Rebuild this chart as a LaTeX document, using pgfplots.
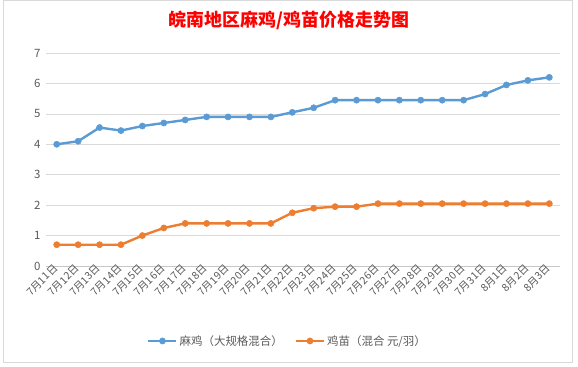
\documentclass[border=0pt]{standalone}
\usepackage{pgfplots}
\pgfplotsset{compat=1.18}
\usepackage{fontspec}
\setmainfont{Noto Sans CJK SC}
\definecolor{sblue}{HTML}{5B9BD5}
\definecolor{sorange}{HTML}{ED7D31}
\definecolor{gridc}{HTML}{D9D9D9}
\definecolor{txtc}{HTML}{595959}
\begin{document}
\begin{tikzpicture}[x=1bp,y=1bp]
\useasboundingbox (0,0) rectangle (578,366);
\draw[gridc, line width=0.6bp] (3,4) rectangle (572,366);
\begin{axis}[
  at={(46bp,100bp)}, anchor=south west,
  scale only axis, width=514bp, height=213bp,
  xmin=-0.5, xmax=23.5, ymin=0, ymax=7,
  axis x line*=bottom, axis y line*=left,
  x axis line style={draw=gridc!80!gray, -},
  y axis line style={draw=none},
  xtick={0,...,23},
  xticklabels={7月11日,7月12日,7月13日,7月14日,7月15日,7月16日,7月17日,7月18日,7月19日,7月20日,7月21日,7月22日,7月23日,7月24日,7月25日,7月26日,7月27日,7月28日,7月29日,7月30日,7月31日,8月1日,8月2日,8月3日},
  major x tick style={draw=none},
  major y tick style={draw=none},
  extra x ticks={-0.5,0.5,...,23.5},
  extra x tick labels={},
  extra x tick style={major tick length=4bp, tick align=outside, major tick style={draw=gridc!80!gray}, xmajorgrids=false},
  xticklabel style={rotate=45, anchor=east, font=\fontsize{10.5}{11}\selectfont, text=txtc, inner sep=1bp},
  ytick={0,...,7},
  ymajorgrids, grid style={gridc, line width=0.6bp},
  yticklabel style={font=\fontsize{11.5}{12}\selectfont, text=txtc, xshift=-2bp},
  /pgf/number format/assume math mode=true,
  legend columns=2,
  legend style={at={(0.47,-0.352)}, anchor=center, draw=none, fill=none,
    font=\fontsize{11.5}{12}\selectfont, text=txtc, inner xsep=1bp,
    /tikz/every even column/.append style={column sep=10bp}},
  legend cell align=left,
  legend image code/.code={
    \draw[#1, line width=2.4bp] (0bp,0bp) -- (28bp,0bp);
    \draw[#1, mark repeat=1] plot coordinates {(14bp,0bp)};
  },
  clip=false,
]
\addplot[sblue, line width=2.4bp, mark=*, mark size=3.1bp, mark options={fill=sblue, draw=sblue, line width=0.5bp}] coordinates {
(0,4.0) (1,4.1) (2,4.55) (3,4.45) (4,4.6) (5,4.7) (6,4.8) (7,4.9) (8,4.9) (9,4.9) (10,4.9) (11,5.05) (12,5.2) (13,5.45) (14,5.45) (15,5.45) (16,5.45) (17,5.45) (18,5.45) (19,5.45) (20,5.65) (21,5.95) (22,6.1) (23,6.2)
};
\addlegendentry{麻鸡（大规格混合）}
\addplot[sorange, line width=2.4bp, mark=*, mark size=3.1bp, mark options={fill=sorange, draw=sorange, line width=0.5bp}] coordinates {
(0,0.7) (1,0.7) (2,0.7) (3,0.7) (4,1.0) (5,1.25) (6,1.4) (7,1.4) (8,1.4) (9,1.4) (10,1.4) (11,1.75) (12,1.9) (13,1.95) (14,1.95) (15,2.05) (16,2.05) (17,2.05) (18,2.05) (19,2.05) (20,2.05) (21,2.05) (22,2.05) (23,2.05)
};
\addlegendentry{鸡苗（混合 元/羽）}
\end{axis}
\node[text=red, font=\fontsize{18}{20}\selectfont\bfseries] at (289,346) {皖南地区麻鸡/鸡苗价格走势图};
\end{tikzpicture}
\end{document}
